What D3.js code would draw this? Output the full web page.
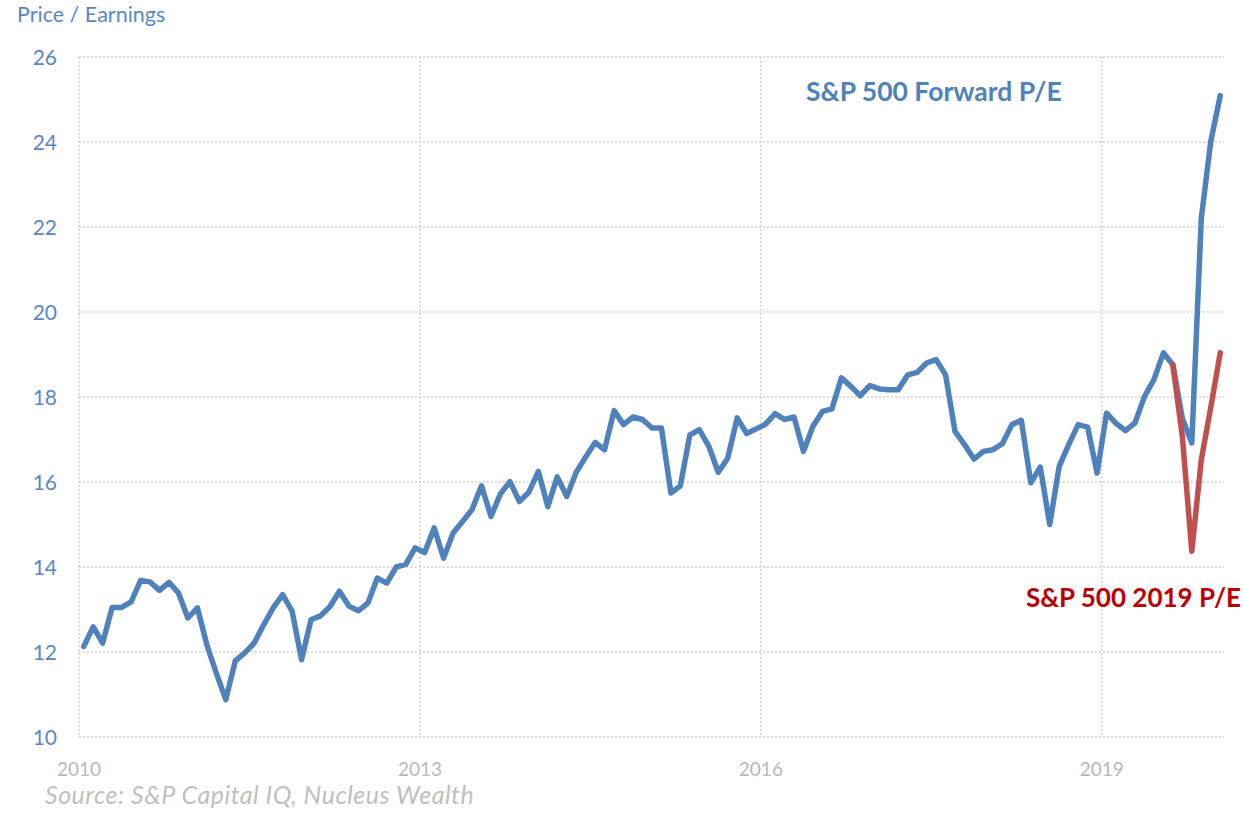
<!DOCTYPE html>
<html>
<head>
<meta charset="utf-8">
<script src="https://d3js.org/d3.v7.min.js"></script>
<style>
	body{
		margin:0;
		background:#fff;
	}
	svg text{
		font-family: Lato, "Open Sans", sans-serif;
	}
	.grid line{
		stroke:#c8c8c8;
		stroke-width:1.6;
		stroke-dasharray:1.6,2.4;
	}
	.ylab{
		fill:#5a87c6;
		font-size:21px;
	}
	.xlab{
		fill:#b8b8b8;
		font-size:19px;
	}
</style>
</head>
<body>
<div id="container"></div>

<script>

// monthly data, first point = Jan 2010
var startYear = 2010;

var forwardPE = [
	12.13, 12.59, 12.21, 13.05, 13.05, 13.18, 13.68, 13.65, 13.45, 13.64, 13.39, 12.80,
	13.04, 12.17, 11.50, 10.88, 11.79, 11.98, 12.21, 12.64, 13.04, 13.35, 12.96, 11.82,
	12.76, 12.85, 13.07, 13.43, 13.08, 12.97, 13.15, 13.74, 13.62, 14.00, 14.06, 14.45,
	14.34, 14.92, 14.21, 14.80, 15.07, 15.35, 15.91, 15.19, 15.72, 16.01, 15.54, 15.76,
	16.25, 15.42, 16.12, 15.66, 16.23, 16.59, 16.93, 16.76, 17.68, 17.35, 17.53, 17.47,
	17.27, 17.27, 15.74, 15.91, 17.11, 17.23, 16.84, 16.23, 16.56, 17.51, 17.14, 17.25,
	17.36, 17.61, 17.47, 17.53, 16.72, 17.31, 17.66, 17.72, 18.45, 18.25, 18.03, 18.27,
	18.19, 18.17, 18.17, 18.52, 18.58, 18.80, 18.88, 18.52, 17.19, 16.88, 16.54, 16.72,
	16.76, 16.90, 17.35, 17.45, 15.98, 16.35, 15.00, 16.37, 16.88, 17.35, 17.29, 16.21,
	17.62, 17.38, 17.21, 17.39, 18.01, 18.41, 19.04, 18.76, 17.50, 16.92, 22.20, 24.01,
	25.09
];

// 2019 earnings based P/E, starts at month index 115
var pe2019Start = 115;
var pe2019 = [18.76, 17.07, 14.37, 16.52, 17.75, 19.04];

var yTicks = [10, 12, 14, 16, 18, 20, 22, 24, 26];
var xTicks = [2010, 2013, 2016, 2019];

var width = 1245, height = 824;

var svg = d3.select("#container")
	.append("svg")
	.attr("width", width)
	.attr("height", height);

var x = d3.scaleLinear()
	.domain([2010, 2020.075])
	.range([79, 1224]);

var y = d3.scaleLinear()
	.domain([10, 26])
	.range([737, 57]);

function monthPos(i){ return startYear + (i + 0.5) / 12; }

// gridlines
var grid = svg.append("g").attr("class", "grid");

grid.selectAll("line.h")
	.data(yTicks)
	.enter().append("line")
	.attr("class", "h")
	.attr("x1", x(2010))
	.attr("x2", x.range()[1])
	.attr("y1", function(d){ return y(d); })
	.attr("y2", function(d){ return y(d); });

grid.selectAll("line.v")
	.data(xTicks)
	.enter().append("line")
	.attr("class", "v")
	.attr("x1", function(d){ return x(d); })
	.attr("x2", function(d){ return x(d); })
	.attr("y1", y(26))
	.attr("y2", y(10));

// axis labels
svg.selectAll("text.ylab")
	.data(yTicks)
	.enter().append("text")
	.attr("class", "ylab")
	.attr("x", 57)
	.attr("y", function(d){ return y(d); })
	.attr("dy", "0.36em")
	.attr("text-anchor", "end")
	.text(function(d){ return d; });

svg.selectAll("text.xlab")
	.data(xTicks)
	.enter().append("text")
	.attr("class", "xlab")
	.attr("x", function(d){ return x(d); })
	.attr("y", 776)
	.attr("text-anchor", "middle")
	.text(function(d){ return d; });

svg.append("text")
	.attr("x", 17)
	.attr("y", 22)
	.style("fill", "#5a87c6")
	.style("font-size", "21.5px")
	.text("Price / Earnings");

// lines
var line = d3.line()
	.x(function(d){ return x(monthPos(d.i)); })
	.y(function(d){ return y(d.v); });

var fwdData = forwardPE.map(function(v, i){ return {i: i, v: v}; });
var redData = pe2019.map(function(v, i){ return {i: pe2019Start + i, v: v}; });

svg.append("path")
	.datum(fwdData)
	.attr("d", line)
	.style("fill", "none")
	.style("stroke", "#4f81bd")
	.style("stroke-width", 5.5)
	.style("stroke-linejoin", "round")
	.style("stroke-linecap", "round");

svg.append("path")
	.datum(redData)
	.attr("d", line)
	.style("fill", "none")
	.style("stroke", "#c0504d")
	.style("stroke-width", 5.5)
	.style("stroke-linejoin", "round")
	.style("stroke-linecap", "round");

// series labels
svg.append("text")
	.attr("x", 806)
	.attr("y", 101)
	.style("fill", "#4f81bd")
	.style("font-size", "26.5px")
	.style("font-weight", "bold")
	.text("S&P 500 Forward P/E");

svg.append("text")
	.attr("x", 1026)
	.attr("y", 607)
	.style("fill", "#c00000")
	.style("font-size", "26px")
	.style("font-weight", "bold")
	.text("S&P 500 2019 P/E");

// source
svg.append("text")
	.attr("x", 45)
	.attr("y", 804)
	.style("fill", "#bfbfbf")
	.style("font-size", "25px")
	.style("font-style", "italic")
	.style("letter-spacing", "0.5px")
	.text("Source: S&P Capital IQ, Nucleus Wealth");

</script>
</body>
</html>
